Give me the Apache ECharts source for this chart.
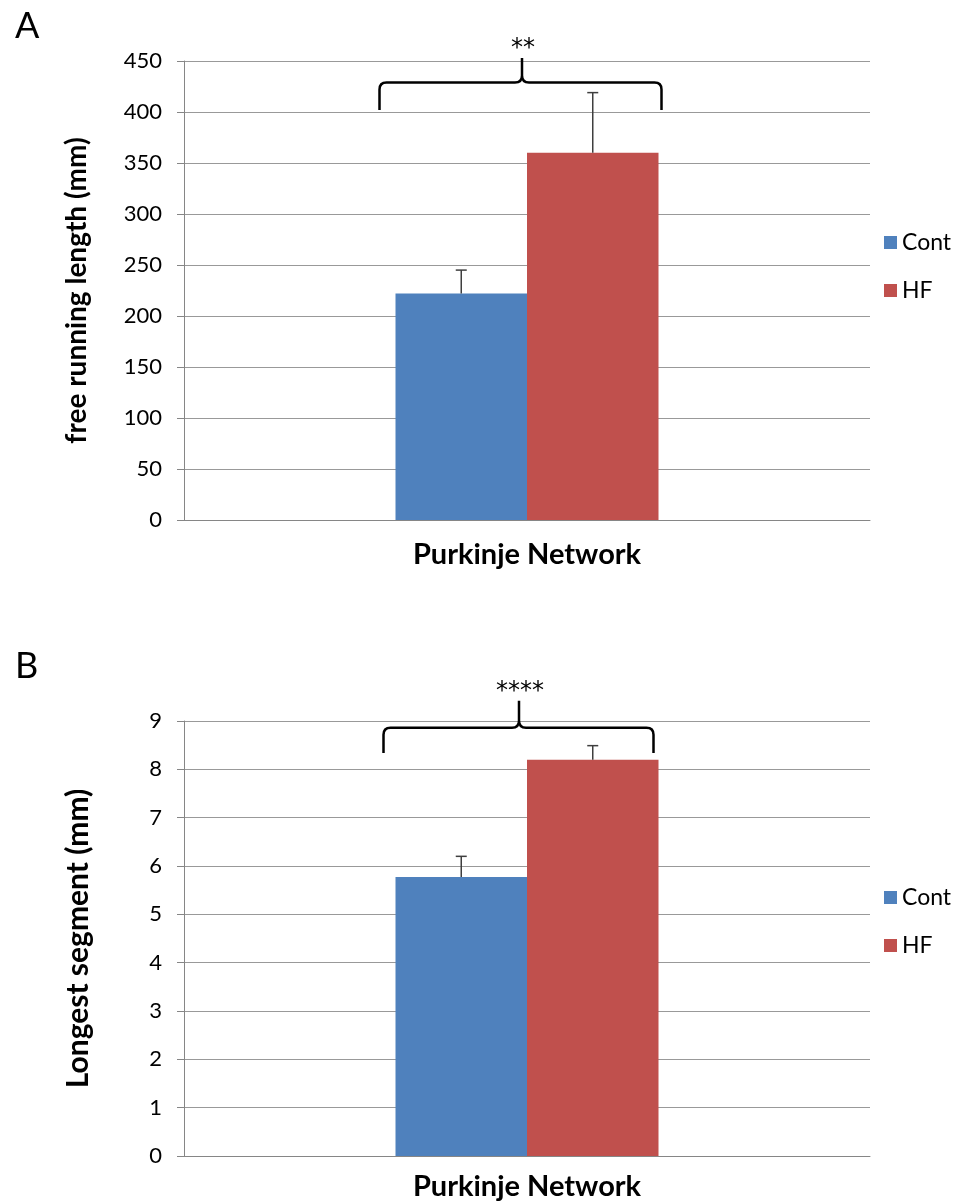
<!DOCTYPE html>
<html>
<head>
<meta charset="utf-8">
<script src="https://cdn.jsdelivr.net/npm/echarts@6/dist/echarts.min.js"></script>
<style>
  html, body { margin: 0; padding: 0; background: #fff; }
  #chart { width: 973px; height: 1202px; }
</style>
</head>
<body>
<div id="chart"></div>
<script>
// Category and series
const categories = ['Purkinje Network'];
const seriesNames = ['Cont', 'HF'];

// Panel A: free running length (mm), mean and upper error
const runLengthMean = [222, 360];
const runLengthErr = [23, 59];
const runLengthAxis = { min: 0, max: 450, interval: 50 };
const runLengthBracket = { foot: 402, level: 429, peak: 453, label: '**' };

// Panel B: longest segment (mm), mean and upper error
const segmentMean = [5.77, 8.20];
const segmentErr = [0.43, 0.29];
const segmentAxis = { min: 0, max: 9, interval: 1 };
const segmentBracket = { foot: 8.34, level: 8.86, peak: 9.42, label: '****' };

const colors = ['#4F81BD', '#C0504D'];
const FONT = 'Lato, "Open Sans", sans-serif';
const BAR_W = 131.5;

const chart = echarts.init(document.getElementById('chart'));

function barSeries(gridIdx, values) {
  return seriesNames.map((name, i) => ({
    type: 'bar',
    name: name,
    xAxisIndex: gridIdx,
    yAxisIndex: gridIdx,
    barWidth: BAR_W,
    barGap: '0%',
    itemStyle: { color: colors[i] },
    data: [values[i]],
    z: 2
  }));
}

function errorSeries(gridIdx, means, errs) {
  return {
    type: 'custom',
    xAxisIndex: gridIdx,
    yAxisIndex: gridIdx,
    z: 3,
    clip: false,
    data: means.map((m, i) => [0, m, m + errs[i], i]),
    renderItem: function (params, api) {
      const side = api.value(3) === 0 ? -1 : 1;
      const base = api.coord([api.value(0), api.value(1)]);
      const top = api.coord([api.value(0), api.value(2)]);
      const x = base[0] + side * BAR_W / 2;
      const cap = 5.5;
      return {
        type: 'group',
        children: [
          { type: 'line', shape: { x1: x, y1: base[1], x2: x, y2: top[1] },
            style: { stroke: '#3f3f3f', lineWidth: 1.5 } },
          { type: 'line', shape: { x1: x - cap, y1: top[1], x2: x + cap, y2: top[1] },
            style: { stroke: '#3f3f3f', lineWidth: 1.5 } }
        ]
      };
    }
  };
}

function bracketSeries(gridIdx, br, leftPad, rightPad, peakShift) {
  return {
    type: 'custom',
    xAxisIndex: gridIdx,
    yAxisIndex: gridIdx,
    z: 4,
    clip: false,
    silent: true,
    data: [[0, br.level, br.foot, br.peak]],
    renderItem: function (params, api) {
      const c = api.coord([0, api.value(1)]);
      const yl = c[1];
      const yf = api.coord([0, api.value(2)])[1];
      const yp = api.coord([0, api.value(3)])[1];
      const L = c[0] - BAR_W - leftPad;
      const R = c[0] + BAR_W + rightPad;
      const C = c[0] + peakShift;
      const r = 7;
      const p = [
        'M', L, yf, 'L', L, yl + r, 'Q', L, yl, L + r, yl,
        'L', C - r, yl, 'Q', C, yl, C, yl - r, 'L', C, yp,
        'M', C, yl - r, 'Q', C, yl, C + r, yl,
        'L', R - r, yl, 'Q', R, yl, R, yl + r, 'L', R, yf
      ].join(' ');
      return {
        type: 'group',
        children: [
          { type: 'path', shape: { pathData: p },
            style: { fill: null, stroke: '#000', lineWidth: 2.5 } },
          { type: 'text', x: C + 1, y: yp + 3,
            style: { text: br.label, fill: '#000', font: '24px "DejaVu Sans", sans-serif',
                     align: 'center', verticalAlign: 'bottom' } }
        ]
      };
    }
  };
}

function yAxis(gridIdx, ax, name, nameSize, nameGap) {
  return {
    type: 'value',
    gridIndex: gridIdx,
    min: ax.min, max: ax.max, interval: ax.interval,
    name: name,
    nameLocation: 'middle',
    nameRotate: 90,
    nameGap: nameGap,
    nameTextStyle: { fontFamily: FONT, fontWeight: 'bold', fontSize: nameSize, color: '#000' },
    axisLine: { show: true, lineStyle: { color: '#868686', width: 1 } },
    axisTick: { show: true, length: 7, lineStyle: { color: '#868686' } },
    axisLabel: { fontFamily: FONT, fontSize: 22, color: '#000', margin: 22 },
    splitLine: { show: true, lineStyle: { color: '#999', width: 1 } }
  };
}

function xAxis(gridIdx, margin) {
  return {
    type: 'category',
    gridIndex: gridIdx,
    data: categories,
    axisLine: { show: true, lineStyle: { color: '#868686', width: 1 } },
    axisTick: { show: false },
    axisLabel: { fontFamily: FONT, fontSize: 29, fontWeight: 'bold', color: '#000', margin: margin }
  };
}

function legend(top) {
  return {
    data: seriesNames,
    orient: 'vertical',
    left: 879,
    top: top,
    itemWidth: 13,
    itemHeight: 13,
    itemGap: 25,
    icon: 'rect',
    selectedMode: false,
    textStyle: { fontFamily: FONT, fontSize: 23, color: '#000', padding: [0, 0, 0, 0] }
  };
}

chart.setOption({
  animation: false,
  backgroundColor: '#fff',
  title: [
    { text: 'A', left: 10, top: 3, textStyle: { fontFamily: FONT, fontSize: 36, fontWeight: 'normal', color: '#000' } },
    { text: 'B', left: 10, top: 643, textStyle: { fontFamily: FONT, fontSize: 36, fontWeight: 'normal', color: '#000' } }
  ],
  legend: [legend(226), legend(881)],
  grid: [
    { left: 184, top: 61, width: 686, height: 459 },
    { left: 184, top: 721, width: 686, height: 435 }
  ],
  xAxis: [xAxis(0, 20), xAxis(1, 16)],
  yAxis: [
    yAxis(0, runLengthAxis, 'free running length (mm)', 28, 93),
    yAxis(1, segmentAxis, 'Longest segment (mm)', 30, 91)
  ],
  series: [
    ...barSeries(0, runLengthMean),
    errorSeries(0, runLengthMean, runLengthErr),
    bracketSeries(0, runLengthBracket, 16, 3, -5),
    ...barSeries(1, segmentMean),
    errorSeries(1, segmentMean, segmentErr),
    bracketSeries(1, segmentBracket, 12, -5, -8)
  ]
});
</script>
</body>
</html>
